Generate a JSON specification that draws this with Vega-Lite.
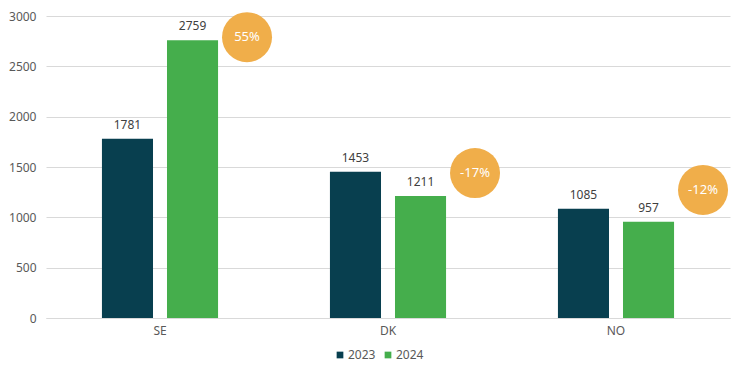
{
  "$schema": "https://vega.github.io/schema/vega-lite/v6.json",
  "width": 684,
  "height": 302,
  "autosize": {"type": "none"},
  "padding": {"left": 46, "top": 16, "right": 16, "bottom": 58},
  "config": {"view": {"stroke": null}, "font": "Noto Sans"},
  "datasets": {
    "bars": [
      {"country": "SE", "year": "2023", "value": 1781},
      {"country": "SE", "year": "2024", "value": 2759},
      {"country": "DK", "year": "2023", "value": 1453},
      {"country": "DK", "year": "2024", "value": 1211},
      {"country": "NO", "year": "2023", "value": 1085},
      {"country": "NO", "year": "2024", "value": 957}
    ],
    "chg": [
      {"country": "SE", "slot": "c", "change": "55%", "ypos": 2790},
      {"country": "DK", "slot": "c", "change": "-17%", "ypos": 1440},
      {"country": "NO", "slot": "c", "change": "-12%", "ypos": 1272}
    ]
  },
  "layer": [
    {
      "data": {"name": "bars"},
      "mark": {"type": "bar"},
      "encoding": {
        "x": {"field": "country", "type": "nominal", "sort": ["SE", "DK", "NO"],
          "scale": {"type": "band", "paddingInner": 0, "paddingOuter": 0},
          "axis": {"title": null, "labelAngle": 0, "ticks": false, "domainColor": "#d9d9d9", "labelColor": "#595959", "labelFontSize": 12, "labelPadding": 7}},
        "xOffset": {"field": "year", "type": "nominal", "scale": {"type": "band", "paddingInner": 0.215, "paddingOuter": 0.86}},
        "y": {"field": "value", "type": "quantitative", "scale": {"domain": [0, 3000], "nice": false},
          "axis": {"title": null, "format": "d", "values": [0, 500, 1000, 1500, 2000, 2500, 3000], "domain": false, "ticks": false, "gridColor": "#d9d9d9", "labelColor": "#595959", "labelFontSize": 12, "labelPadding": 10}},
        "color": {"field": "year", "type": "nominal",
          "scale": {"domain": ["2023", "2024"], "range": ["#083F4F", "#45AE4C"]},
          "legend": {"title": null, "orient": "none", "direction": "horizontal", "legendX": 288, "legendY": 333, "symbolType": "square", "symbolSize": 45, "labelFontSize": 12, "labelColor": "#595959", "columnPadding": 6, "labelOffset": 2, "padding": 0}}
      }
    },
    {
      "data": {"name": "bars"},
      "mark": {"type": "text", "baseline": "bottom", "dy": -7, "fontSize": 12, "color": "#404040"},
      "encoding": {
        "x": {"field": "country", "type": "nominal", "sort": ["SE", "DK", "NO"], "scale": {"type": "band", "paddingInner": 0, "paddingOuter": 0}},
        "xOffset": {"field": "year", "type": "nominal", "scale": {"type": "band", "paddingInner": 0.215, "paddingOuter": 0.86}},
        "y": {"field": "value", "type": "quantitative"},
        "text": {"field": "value", "type": "quantitative"}
      }
    },
    {
      "data": {"name": "chg"},
      "mark": {"type": "circle", "size": 2500, "opacity": 1, "color": "#F0AE4A"},
      "encoding": {
        "x": {"field": "country", "type": "nominal", "sort": ["SE", "DK", "NO"], "scale": {"type": "band", "paddingInner": 0, "paddingOuter": 0}},
        "xOffset": {"field": "slot", "type": "nominal", "scale": {"type": "band", "domain": ["a", "c"], "paddingInner": 0.69, "paddingOuter": 0}},
        "y": {"field": "ypos", "type": "quantitative"}
      }
    },
    {
      "data": {"name": "chg"},
      "mark": {"type": "text", "fontSize": 13, "color": "#ffffff", "baseline": "middle"},
      "encoding": {
        "x": {"field": "country", "type": "nominal", "sort": ["SE", "DK", "NO"], "scale": {"type": "band", "paddingInner": 0, "paddingOuter": 0}},
        "xOffset": {"field": "slot", "type": "nominal", "scale": {"type": "band", "domain": ["a", "c"], "paddingInner": 0.69, "paddingOuter": 0}},
        "y": {"field": "ypos", "type": "quantitative"},
        "text": {"field": "change", "type": "nominal"}
      }
    }
  ],
  "resolve": {"scale": {"xOffset": "independent"}}
}
